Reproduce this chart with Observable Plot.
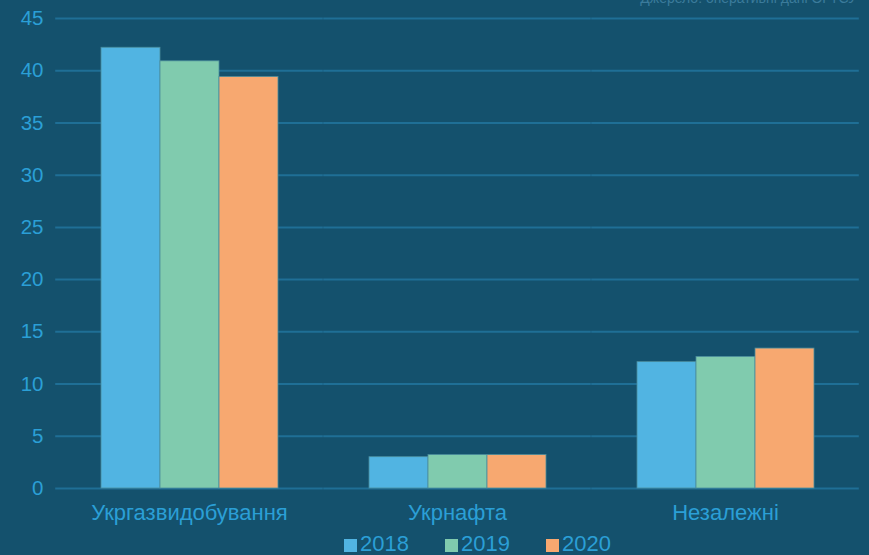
<!DOCTYPE html>
<html><head><meta charset="utf-8">
<script src="https://cdn.jsdelivr.net/npm/d3@7"></script>
<script src="https://cdn.jsdelivr.net/npm/@observablehq/plot@0.6"></script>
<style>
body{margin:0;background:#14516d;font-family:"Liberation Sans",Arial,sans-serif;}
#wrap{position:relative;width:869px;height:555px;overflow:hidden;background:#14516d}
#src{position:absolute;right:12px;top:-10px;font-size:14px;color:#3b7b9b;white-space:nowrap}
#legend{position:absolute;left:344px;top:531px;display:flex;gap:0;font-size:22px;color:#2b9fd6;line-height:26px}
.item{display:flex;align-items:center;width:101px}
.sw{width:13px;height:13px;margin-right:3px;margin-top:2px}
</style></head><body>
<div id="wrap"><div id="chart"></div><div id="src">Джерело: оперативні дані ОГТСУ</div><div id="legend"></div></div>
<script>
const categories = ["Укргазвидобування", "Укрнафта", "Незалежні"];
const years = ["2018", "2019", "2020"];
const values2018 = [42.2, 3.0, 12.1];
const values2019 = [40.9, 3.2, 12.6];
const values2020 = [39.4, 3.2, 13.4];
const colors = ["#51b4e2", "#80cbae", "#f7a870"];
const yTicks = [0, 5, 10, 15, 20, 25, 30, 35, 40, 45];

const series = [values2018, values2019, values2020];
const data = categories.flatMap((c, i) => series.map((s, j) => ({category: c, year: years[j], value: s[i]})));

const chart = Plot.plot({
  width: 869, height: 533,
  marginTop: 18, marginBottom: 45, marginLeft: 57, marginRight: 12,
  style: {background: "transparent", fontFamily: "'Liberation Sans', Arial, sans-serif", color: "#2b9fd6"},
  fx: {domain: categories, paddingInner: 0.335, paddingOuter: 0.16, label: null},
  x: {domain: years, padding: 0, axis: null},
  y: {domain: [0, 45], label: null},
  color: {domain: years, range: colors},
  marks: [
    Plot.ruleY(yTicks, {y: d => d, stroke: "#1f6f96", strokeWidth: 2, insetLeft: -44.8, insetRight: -44.8}),
    Plot.barY(data, {fx: "category", x: "year", y: "value", fill: "year", stroke: "#4a8c9c", strokeWidth: 0.8}),
    Plot.axisY(yTicks, {tickSize: 0, tickPadding: 57, fontSize: 20.5, label: null, fill: "#2b9fd6"}),
    Plot.axisFx({anchor: "bottom", tickSize: 0, tickPadding: 16, fontSize: 22, label: null, fill: "#2b9fd6"})
  ]
});
document.getElementById("chart").appendChild(chart);

const legend = document.getElementById("legend");
years.forEach((y, i) => {
  const it = document.createElement("div");
  it.className = "item";
  it.innerHTML = `<span class="sw" style="background:${colors[i]}"></span><span>${y}</span>`;
  legend.appendChild(it);
});
</script>
</body></html>
